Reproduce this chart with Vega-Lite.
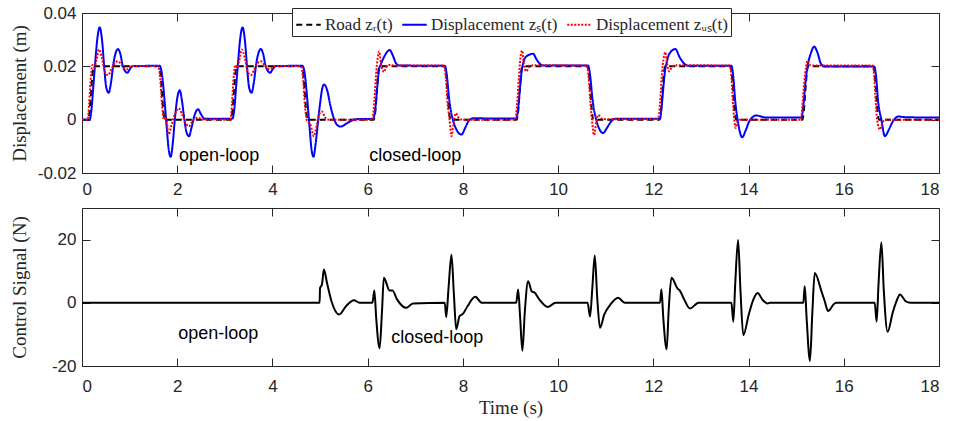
{
  "$schema": "https://vega.github.io/schema/vega-lite/v6.json",
  "background": "white",
  "padding": {"left": 9, "right": 1, "top": 3, "bottom": 5},
  "spacing": 9,
  "config": {
    "view": {"stroke": "#262626", "strokeWidth": 1},
    "axis": {
      "grid": false, "domain": false, "ticks": true, "tickColor": "#262626", "tickSize": -8, "tickWidth": 1,
      "labelFont": "Liberation Sans", "labelFontSize": 17, "labelColor": "#262626",
      "titleFont": "Liberation Serif", "titleFontSize": 19, "titleFontWeight": "normal", "titleColor": "#262626"
    }
  },
  "vconcat": [
    {
      "width": 857,
      "height": 160,
      "layer": [
        {
          "data": {"values": [
            {"t":0,"z":0,"s":"road"},{"t":0.13,"z":0,"s":"road"},{"t":0.16,"z":0.003,"s":"road"},{"t":0.19,"z":0.01,"s":"road"},{"t":0.22,"z":0.017,"s":"road"},{"t":0.25,"z":0.02,"s":"road"},
            {"t":1.62,"z":0.02,"s":"road"},{"t":1.65,"z":0.017,"s":"road"},{"t":1.68,"z":0.01,"s":"road"},{"t":1.71,"z":0.003,"s":"road"},{"t":1.74,"z":0,"s":"road"},
            {"t":3.13,"z":0,"s":"road"},{"t":3.16,"z":0.003,"s":"road"},{"t":3.19,"z":0.01,"s":"road"},{"t":3.22,"z":0.017,"s":"road"},{"t":3.25,"z":0.02,"s":"road"},
            {"t":4.62,"z":0.02,"s":"road"},{"t":4.65,"z":0.017,"s":"road"},{"t":4.68,"z":0.01,"s":"road"},{"t":4.71,"z":0.003,"s":"road"},{"t":4.74,"z":0,"s":"road"},
            {"t":6.13,"z":0,"s":"road"},{"t":6.16,"z":0.003,"s":"road"},{"t":6.19,"z":0.01,"s":"road"},{"t":6.22,"z":0.017,"s":"road"},{"t":6.25,"z":0.02,"s":"road"},
            {"t":7.62,"z":0.02,"s":"road"},{"t":7.65,"z":0.017,"s":"road"},{"t":7.68,"z":0.01,"s":"road"},{"t":7.71,"z":0.003,"s":"road"},{"t":7.74,"z":0,"s":"road"},
            {"t":9.13,"z":0,"s":"road"},{"t":9.16,"z":0.003,"s":"road"},{"t":9.19,"z":0.01,"s":"road"},{"t":9.22,"z":0.017,"s":"road"},{"t":9.25,"z":0.02,"s":"road"},
            {"t":10.62,"z":0.02,"s":"road"},{"t":10.65,"z":0.017,"s":"road"},{"t":10.68,"z":0.01,"s":"road"},{"t":10.71,"z":0.003,"s":"road"},{"t":10.74,"z":0,"s":"road"},
            {"t":12.13,"z":0,"s":"road"},{"t":12.16,"z":0.003,"s":"road"},{"t":12.19,"z":0.01,"s":"road"},{"t":12.22,"z":0.017,"s":"road"},{"t":12.25,"z":0.02,"s":"road"},
            {"t":13.62,"z":0.02,"s":"road"},{"t":13.65,"z":0.017,"s":"road"},{"t":13.68,"z":0.01,"s":"road"},{"t":13.71,"z":0.003,"s":"road"},{"t":13.74,"z":0,"s":"road"},
            {"t":15.13,"z":0,"s":"road"},{"t":15.16,"z":0.003,"s":"road"},{"t":15.19,"z":0.01,"s":"road"},{"t":15.22,"z":0.017,"s":"road"},{"t":15.25,"z":0.02,"s":"road"},
            {"t":16.62,"z":0.02,"s":"road"},{"t":16.65,"z":0.017,"s":"road"},{"t":16.68,"z":0.01,"s":"road"},{"t":16.71,"z":0.003,"s":"road"},{"t":16.74,"z":0,"s":"road"},
            {"t":18,"z":0,"s":"road"},

            {"t":0,"z":0,"s":"zs"},{"t":0.16,"z":0,"s":"zs"},{"t":0.2,"z":0.004,"s":"zs"},{"t":0.24,"z":0.013,"s":"zs"},{"t":0.28,"z":0.022,"s":"zs"},{"t":0.32,"z":0.03,"s":"zs"},{"t":0.372,"z":0.0346,"s":"zs"},{"t":0.42,"z":0.03,"s":"zs"},{"t":0.47,"z":0.019,"s":"zs"},{"t":0.51,"z":0.012,"s":"zs"},{"t":0.561,"z":0.0101,"s":"zs"},{"t":0.61,"z":0.014,"s":"zs"},{"t":0.66,"z":0.021,"s":"zs"},{"t":0.756,"z":0.0265,"s":"zs"},{"t":0.8,"z":0.025,"s":"zs"},{"t":0.86,"z":0.02,"s":"zs"},{"t":0.952,"z":0.0176,"s":"zs"},{"t":1.0,"z":0.0188,"s":"zs"},{"t":1.07,"z":0.0201,"s":"zs"},{"t":1.63,"z":0.0202,"s":"zs"},
            {"t":1.68,"z":0.017,"s":"zs"},{"t":1.73,"z":0.008,"s":"zs"},{"t":1.78,"z":-0.003,"s":"zs"},{"t":1.82,"z":-0.011,"s":"zs"},{"t":1.863,"z":-0.0139,"s":"zs"},{"t":1.9,"z":-0.01,"s":"zs"},{"t":1.95,"z":0.0,"s":"zs"},{"t":2.0,"z":0.008,"s":"zs"},{"t":2.053,"z":0.011,"s":"zs"},{"t":2.1,"z":0.007,"s":"zs"},{"t":2.15,"z":0.0,"s":"zs"},{"t":2.2,"z":-0.005,"s":"zs"},{"t":2.248,"z":-0.0062,"s":"zs"},{"t":2.3,"z":-0.003,"s":"zs"},{"t":2.37,"z":0.002,"s":"zs"},{"t":2.437,"z":0.0039,"s":"zs"},{"t":2.5,"z":0.002,"s":"zs"},{"t":2.578,"z":0.0003,"s":"zs"},{"t":3.16,"z":0.0004,"s":"zs"},
            {"t":3.2,"z":0.004,"s":"zs"},{"t":3.24,"z":0.013,"s":"zs"},{"t":3.28,"z":0.022,"s":"zs"},{"t":3.32,"z":0.03,"s":"zs"},{"t":3.372,"z":0.0346,"s":"zs"},{"t":3.42,"z":0.03,"s":"zs"},{"t":3.47,"z":0.019,"s":"zs"},{"t":3.51,"z":0.012,"s":"zs"},{"t":3.561,"z":0.0101,"s":"zs"},{"t":3.61,"z":0.014,"s":"zs"},{"t":3.66,"z":0.021,"s":"zs"},{"t":3.756,"z":0.0265,"s":"zs"},{"t":3.8,"z":0.025,"s":"zs"},{"t":3.86,"z":0.02,"s":"zs"},{"t":3.952,"z":0.0176,"s":"zs"},{"t":4.0,"z":0.0188,"s":"zs"},{"t":4.07,"z":0.0201,"s":"zs"},{"t":4.63,"z":0.0202,"s":"zs"},
            {"t":4.68,"z":0.017,"s":"zs"},{"t":4.73,"z":0.008,"s":"zs"},{"t":4.78,"z":-0.003,"s":"zs"},{"t":4.82,"z":-0.011,"s":"zs"},{"t":4.863,"z":-0.0139,"s":"zs"},{"t":4.9,"z":-0.01,"s":"zs"},{"t":4.95,"z":-0.002,"s":"zs"},{"t":5.0,"z":0.006,"s":"zs"},{"t":5.05,"z":0.012,"s":"zs"},{"t":5.084,"z":0.0132,"s":"zs"},{"t":5.15,"z":0.011,"s":"zs"},{"t":5.22,"z":0.005,"s":"zs"},{"t":5.3,"z":0.0,"s":"zs"},{"t":5.36,"z":-0.002,"s":"zs"},{"t":5.435,"z":-0.0026,"s":"zs"},{"t":5.55,"z":-0.0015,"s":"zs"},{"t":5.65,"z":-0.0005,"s":"zs"},{"t":5.76,"z":0.0002,"s":"zs"},{"t":6.11,"z":0.0003,"s":"zs"},
            {"t":6.16,"z":0.004,"s":"zs"},{"t":6.2,"z":0.012,"s":"zs"},{"t":6.24,"z":0.019,"s":"zs"},{"t":6.27,"z":0.0205,"s":"zs"},{"t":6.33,"z":0.023,"s":"zs"},{"t":6.464,"z":0.0261,"s":"zs"},{"t":6.53,"z":0.024,"s":"zs"},{"t":6.6,"z":0.021,"s":"zs"},{"t":6.67,"z":0.0203,"s":"zs"},{"t":7.62,"z":0.0202,"s":"zs"},
            {"t":7.66,"z":0.017,"s":"zs"},{"t":7.71,"z":0.008,"s":"zs"},{"t":7.79,"z":0.0,"s":"zs"},{"t":7.968,"z":-0.0056,"s":"zs"},{"t":8.05,"z":-0.003,"s":"zs"},{"t":8.12,"z":-0.0005,"s":"zs"},{"t":8.21,"z":0.0005,"s":"zs"},{"t":9.12,"z":0.0004,"s":"zs"},
            {"t":9.16,"z":0.004,"s":"zs"},{"t":9.2,"z":0.012,"s":"zs"},{"t":9.24,"z":0.019,"s":"zs"},{"t":9.265,"z":0.021,"s":"zs"},{"t":9.32,"z":0.0235,"s":"zs"},{"t":9.475,"z":0.0247,"s":"zs"},{"t":9.55,"z":0.0225,"s":"zs"},{"t":9.68,"z":0.0203,"s":"zs"},{"t":10.63,"z":0.0203,"s":"zs"},
            {"t":10.67,"z":0.017,"s":"zs"},{"t":10.72,"z":0.008,"s":"zs"},{"t":10.8,"z":0.0,"s":"zs"},{"t":10.945,"z":-0.005,"s":"zs"},{"t":11.03,"z":-0.003,"s":"zs"},{"t":11.1,"z":-0.001,"s":"zs"},{"t":11.19,"z":0.0003,"s":"zs"},{"t":12.14,"z":0.0003,"s":"zs"},
            {"t":12.17,"z":0.004,"s":"zs"},{"t":12.21,"z":0.012,"s":"zs"},{"t":12.25,"z":0.019,"s":"zs"},{"t":12.275,"z":0.021,"s":"zs"},{"t":12.33,"z":0.0245,"s":"zs"},{"t":12.464,"z":0.0265,"s":"zs"},{"t":12.55,"z":0.0235,"s":"zs"},{"t":12.73,"z":0.0202,"s":"zs"},{"t":13.64,"z":0.0202,"s":"zs"},
            {"t":13.68,"z":0.016,"s":"zs"},{"t":13.72,"z":0.007,"s":"zs"},{"t":13.77,"z":0.0,"s":"zs"},{"t":13.866,"z":-0.0066,"s":"zs"},{"t":13.94,"z":-0.004,"s":"zs"},{"t":14.02,"z":-0.0005,"s":"zs"},{"t":14.166,"z":0.0016,"s":"zs"},{"t":14.3,"z":0.001,"s":"zs"},{"t":14.376,"z":0.0008,"s":"zs"},{"t":15.11,"z":0.0008,"s":"zs"},
            {"t":15.15,"z":0.005,"s":"zs"},{"t":15.19,"z":0.013,"s":"zs"},{"t":15.23,"z":0.019,"s":"zs"},{"t":15.25,"z":0.021,"s":"zs"},{"t":15.31,"z":0.025,"s":"zs"},{"t":15.378,"z":0.0274,"s":"zs"},{"t":15.45,"z":0.025,"s":"zs"},{"t":15.52,"z":0.021,"s":"zs"},{"t":15.6,"z":0.0199,"s":"zs"},{"t":16.64,"z":0.0199,"s":"zs"},
            {"t":16.68,"z":0.016,"s":"zs"},{"t":16.72,"z":0.007,"s":"zs"},{"t":16.79,"z":0.0,"s":"zs"},{"t":16.863,"z":-0.0062,"s":"zs"},{"t":16.94,"z":-0.004,"s":"zs"},{"t":17.02,"z":-0.001,"s":"zs"},{"t":17.14,"z":0.0012,"s":"zs"},{"t":17.3,"z":0.0009,"s":"zs"},{"t":18,"z":0.0008,"s":"zs"},

            {"t":0,"z":0,"s":"zus"},{"t":0.12,"z":0,"s":"zus"},{"t":0.15,"z":0.006,"s":"zus"},{"t":0.19,"z":0.017,"s":"zus"},{"t":0.22,"z":0.0205,"s":"zus"},{"t":0.26,"z":0.0195,"s":"zus"},{"t":0.3,"z":0.022,"s":"zus"},{"t":0.357,"z":0.0263,"s":"zus"},{"t":0.42,"z":0.023,"s":"zus"},{"t":0.48,"z":0.018,"s":"zus"},{"t":0.546,"z":0.0167,"s":"zus"},{"t":0.62,"z":0.019,"s":"zus"},{"t":0.68,"z":0.021,"s":"zus"},{"t":0.756,"z":0.0219,"s":"zus"},{"t":0.85,"z":0.02,"s":"zus"},{"t":0.94,"z":0.0189,"s":"zus"},{"t":1.05,"z":0.0201,"s":"zus"},{"t":1.6,"z":0.0201,"s":"zus"},
            {"t":1.64,"z":0.016,"s":"zus"},{"t":1.68,"z":0.006,"s":"zus"},{"t":1.72,"z":0.0,"s":"zus"},{"t":1.76,"z":0.001,"s":"zus"},{"t":1.82,"z":-0.0055,"s":"zus"},{"t":1.88,"z":-0.002,"s":"zus"},{"t":1.95,"z":0.002,"s":"zus"},{"t":2.03,"z":0.0043,"s":"zus"},{"t":2.1,"z":0.002,"s":"zus"},{"t":2.17,"z":-0.001,"s":"zus"},{"t":2.245,"z":-0.0025,"s":"zus"},{"t":2.32,"z":-0.0005,"s":"zus"},{"t":2.43,"z":0.0007,"s":"zus"},{"t":2.55,"z":0.0001,"s":"zus"},{"t":3.12,"z":0.0,"s":"zus"},
            {"t":3.15,"z":0.006,"s":"zus"},{"t":3.19,"z":0.017,"s":"zus"},{"t":3.22,"z":0.0205,"s":"zus"},{"t":3.26,"z":0.0195,"s":"zus"},{"t":3.3,"z":0.022,"s":"zus"},{"t":3.357,"z":0.0263,"s":"zus"},{"t":3.42,"z":0.023,"s":"zus"},{"t":3.48,"z":0.018,"s":"zus"},{"t":3.546,"z":0.0167,"s":"zus"},{"t":3.62,"z":0.019,"s":"zus"},{"t":3.68,"z":0.021,"s":"zus"},{"t":3.756,"z":0.0219,"s":"zus"},{"t":3.85,"z":0.02,"s":"zus"},{"t":3.94,"z":0.0189,"s":"zus"},{"t":4.05,"z":0.0201,"s":"zus"},{"t":4.6,"z":0.0201,"s":"zus"},
            {"t":4.64,"z":0.016,"s":"zus"},{"t":4.68,"z":0.006,"s":"zus"},{"t":4.72,"z":0.0,"s":"zus"},{"t":4.76,"z":-0.001,"s":"zus"},{"t":4.8,"z":-0.002,"s":"zus"},{"t":4.87,"z":-0.0062,"s":"zus"},{"t":4.93,"z":-0.002,"s":"zus"},{"t":4.98,"z":0.002,"s":"zus"},{"t":5.04,"z":0.0031,"s":"zus"},{"t":5.1,"z":0.001,"s":"zus"},{"t":5.18,"z":0.0,"s":"zus"},{"t":6.1,"z":0.0,"s":"zus"},
            {"t":6.14,"z":0.007,"s":"zus"},{"t":6.18,"z":0.018,"s":"zus"},{"t":6.21,"z":0.023,"s":"zus"},{"t":6.24,"z":0.0256,"s":"zus"},{"t":6.28,"z":0.021,"s":"zus"},{"t":6.34,"z":0.0179,"s":"zus"},{"t":6.4,"z":0.02,"s":"zus"},{"t":6.46,"z":0.0205,"s":"zus"},{"t":6.55,"z":0.0203,"s":"zus"},{"t":7.6,"z":0.0203,"s":"zus"},
            {"t":7.64,"z":0.016,"s":"zus"},{"t":7.68,"z":0.006,"s":"zus"},{"t":7.72,"z":0.0,"s":"zus"},{"t":7.76,"z":-0.0062,"s":"zus"},{"t":7.8,"z":-0.002,"s":"zus"},{"t":7.85,"z":0.0024,"s":"zus"},{"t":7.92,"z":0.0005,"s":"zus"},{"t":8.0,"z":0.0,"s":"zus"},{"t":9.1,"z":0.0,"s":"zus"},
            {"t":9.14,"z":0.006,"s":"zus"},{"t":9.18,"z":0.017,"s":"zus"},{"t":9.21,"z":0.0235,"s":"zus"},{"t":9.244,"z":0.0259,"s":"zus"},{"t":9.28,"z":0.021,"s":"zus"},{"t":9.33,"z":0.0181,"s":"zus"},{"t":9.4,"z":0.02,"s":"zus"},{"t":9.5,"z":0.0204,"s":"zus"},{"t":10.6,"z":0.0203,"s":"zus"},
            {"t":10.64,"z":0.016,"s":"zus"},{"t":10.68,"z":0.006,"s":"zus"},{"t":10.71,"z":0.0,"s":"zus"},{"t":10.756,"z":-0.0058,"s":"zus"},{"t":10.8,"z":-0.001,"s":"zus"},{"t":10.84,"z":0.0018,"s":"zus"},{"t":10.92,"z":0.0004,"s":"zus"},{"t":11.0,"z":0.0002,"s":"zus"},{"t":12.1,"z":0.0002,"s":"zus"},
            {"t":12.14,"z":0.006,"s":"zus"},{"t":12.18,"z":0.017,"s":"zus"},{"t":12.22,"z":0.0235,"s":"zus"},{"t":12.25,"z":0.0253,"s":"zus"},{"t":12.29,"z":0.021,"s":"zus"},{"t":12.33,"z":0.0181,"s":"zus"},{"t":12.4,"z":0.02,"s":"zus"},{"t":12.5,"z":0.0204,"s":"zus"},{"t":13.6,"z":0.0203,"s":"zus"},
            {"t":13.64,"z":0.016,"s":"zus"},{"t":13.67,"z":0.007,"s":"zus"},{"t":13.7,"z":0.0,"s":"zus"},{"t":13.73,"z":-0.0031,"s":"zus"},{"t":13.77,"z":-0.0005,"s":"zus"},{"t":13.82,"z":0.0,"s":"zus"},{"t":15.1,"z":0.0,"s":"zus"},
            {"t":15.13,"z":0.005,"s":"zus"},{"t":15.17,"z":0.014,"s":"zus"},{"t":15.21,"z":0.02,"s":"zus"},{"t":15.24,"z":0.0222,"s":"zus"},{"t":15.28,"z":0.0205,"s":"zus"},{"t":15.35,"z":0.0203,"s":"zus"},{"t":16.6,"z":0.0203,"s":"zus"},
            {"t":16.64,"z":0.016,"s":"zus"},{"t":16.67,"z":0.007,"s":"zus"},{"t":16.7,"z":0.0,"s":"zus"},{"t":16.76,"z":-0.0037,"s":"zus"},{"t":16.82,"z":-0.0008,"s":"zus"},{"t":16.9,"z":0.0,"s":"zus"},{"t":18,"z":0.0,"s":"zus"}
          ]},
          "mark": {"type": "line", "interpolate": "monotone", "strokeWidth": 2, "clip": true},
          "encoding": {
            "x": {"field": "t", "type": "quantitative",
                  "scale": {"domain": [0, 18], "nice": false, "zero": false},
                  "axis": {"orient": "bottom", "values": [0,2,4,6,8,10,12,14,16,18], "title": null, "labelPadding": 16}},
            "y": {"field": "z", "type": "quantitative",
                  "scale": {"domain": [-0.02, 0.04], "nice": false, "zero": false},
                  "axis": {"orient": "left", "values": [-0.02, 0, 0.02, 0.04], "title": "Displacement (m)", "labelPadding": 14, "titlePadding": 8,
                           "labelExpr": "datum.value == 0 ? '0' : (datum.value < 0 ? '-' : '') + format(abs(datum.value), '.2f')"}},
            "color": {"field": "s", "type": "nominal",
                      "scale": {"domain": ["road", "zs", "zus"], "range": ["#000000", "#0000ff", "#ff0000"]},
                      "legend": {"title": null, "orient": "none", "legendX": 210, "legendY": -5, "direction": "horizontal",
                                 "labelExpr": "datum.label == 'road' ? 'Road zᵣ(t)' : datum.label == 'zs' ? 'Displacement zₛ(t)' : 'Displacement zᵤₛ(t)'",
                                 "symbolType": "stroke", "symbolSize": 600, "symbolStrokeWidth": 2,
                                 "labelFont": "Liberation Serif", "labelFontSize": 17, "labelColor": "#262626", "labelLimit": 300,
                                 "strokeColor": "#262626", "fillColor": "white", "padding": 3, "columnPadding": 5, "labelOffset": 3, "cornerRadius": 0}},
            "strokeDash": {"field": "s", "type": "nominal",
                           "scale": {"domain": ["road", "zs", "zus"], "range": [[6, 4], [1, 0], [2, 1.5]]},
                           "legend": {"title": null, "orient": "none", "legendX": 210, "legendY": -5, "direction": "horizontal",
                                      "labelExpr": "datum.label == 'road' ? 'Road zᵣ(t)' : datum.label == 'zs' ? 'Displacement zₛ(t)' : 'Displacement zᵤₛ(t)'",
                                      "symbolType": "stroke", "symbolSize": 600, "symbolStrokeWidth": 2,
                                      "labelFont": "Liberation Serif", "labelFontSize": 17, "labelColor": "#262626", "labelLimit": 300,
                                      "strokeColor": "#262626", "fillColor": "white", "padding": 3, "columnPadding": 5, "labelOffset": 3, "cornerRadius": 0}}
          }
        },
        {
          "mark": {"type": "rule", "color": "#000000", "strokeWidth": 1.5, "strokeDash": [1.5, 1.5]},
          "encoding": {
            "x": {"datum": 5, "type": "quantitative",
                  "axis": {"orient": "top", "values": [0,2,4,6,8,10,12,14,16,18], "labels": false, "title": null}}
          }
        },
        {
          "data": {"values": [
            {"t": 2.88, "z": -0.0135, "label": "open-loop"},
            {"t": 7.0, "z": -0.0135, "label": "closed-loop"}
          ]},
          "mark": {"type": "text", "font": "Liberation Sans", "fontSize": 18, "align": "center", "baseline": "middle", "color": "#000000"},
          "encoding": {
            "x": {"field": "t", "type": "quantitative", "axis": null},
            "y": {"field": "z", "type": "quantitative",
                  "axis": {"orient": "right", "values": [-0.02, 0, 0.02, 0.04], "labels": false, "title": null}},
            "text": {"field": "label"}
          }
        }
      ],
      "resolve": {"axis": {"x": "independent", "y": "independent"}}
    },
    {
      "width": 857,
      "height": 158,
      "layer": [
        {
          "data": {"values": [
            {"t":0,"u":0},{"t":4.99,"u":0},{"t":5.0,"u":4.7},{"t":5.04,"u":5.8},{"t":5.08,"u":10.5},{"t":5.15,"u":6.0},{"t":5.24,"u":0.5},{"t":5.4,"u":-3.7},{"t":5.55,"u":-1.0},{"t":5.71,"u":0.8},{"t":5.83,"u":0.0},
            {"t":6.1,"u":0},{"t":6.14,"u":3.9},{"t":6.18,"u":-5},{"t":6.25,"u":-14.4},{"t":6.3,"u":-3},{"t":6.34,"u":7.9},{"t":6.46,"u":3.9},{"t":6.52,"u":3.9},{"t":6.62,"u":1.0},{"t":6.81,"u":-1.6},{"t":6.95,"u":-0.2},
            {"t":7.62,"u":0},{"t":7.65,"u":-4.5},{"t":7.7,"u":5},{"t":7.76,"u":15.2},{"t":7.81,"u":3},{"t":7.86,"u":-8.4},{"t":7.93,"u":-4.2},{"t":8.0,"u":-3.5},{"t":8.1,"u":-1.0},{"t":8.26,"u":1.9},{"t":8.4,"u":0.0},
            {"t":9.12,"u":0},{"t":9.16,"u":4.2},{"t":9.2,"u":-4},{"t":9.25,"u":-15.2},{"t":9.3,"u":-3},{"t":9.37,"u":6.8},{"t":9.45,"u":3.5},{"t":9.5,"u":3.3},{"t":9.6,"u":1.2},{"t":9.78,"u":-1.3},{"t":9.95,"u":0.0},
            {"t":10.62,"u":0},{"t":10.67,"u":-4.4},{"t":10.72,"u":5},{"t":10.77,"u":15.0},{"t":10.82,"u":2},{"t":10.88,"u":-7.9},{"t":10.97,"u":-3.7},{"t":11.1,"u":-0.5},{"t":11.26,"u":1.6},{"t":11.4,"u":0},
            {"t":12.14,"u":0},{"t":12.17,"u":4.2},{"t":12.21,"u":-5},{"t":12.28,"u":-14.7},{"t":12.32,"u":-3},{"t":12.38,"u":7.9},{"t":12.51,"u":4.5},{"t":12.56,"u":3.8},{"t":12.65,"u":1.0},{"t":12.77,"u":-1.8},{"t":12.95,"u":0},
            {"t":13.64,"u":0},{"t":13.68,"u":-6.0},{"t":13.72,"u":6},{"t":13.78,"u":19.9},{"t":13.83,"u":4},{"t":13.89,"u":-10.3},{"t":14.0,"u":-4},{"t":14.1,"u":1},{"t":14.19,"u":3.1},{"t":14.3,"u":0.8},{"t":14.4,"u":-0.2},{"t":14.45,"u":0},
            {"t":15.15,"u":0},{"t":15.18,"u":5.2},{"t":15.22,"u":-5},{"t":15.29,"u":-18.4},{"t":15.34,"u":-3},{"t":15.39,"u":9.4},{"t":15.53,"u":3.7},{"t":15.6,"u":0.5},{"t":15.67,"u":-2.6},{"t":15.8,"u":-0.3},{"t":15.85,"u":0},
            {"t":16.65,"u":0},{"t":16.69,"u":-6.0},{"t":16.73,"u":6},{"t":16.79,"u":19.2},{"t":16.84,"u":4},{"t":16.92,"u":-9.2},{"t":17.03,"u":-3},{"t":17.12,"u":1},{"t":17.18,"u":2.6},{"t":17.3,"u":0.5},{"t":17.4,"u":0},{"t":18,"u":0}
          ]},
          "mark": {"type": "line", "interpolate": "monotone", "strokeWidth": 2, "color": "#000000", "clip": true},
          "encoding": {
            "x": {"field": "t", "type": "quantitative",
                  "scale": {"domain": [0, 18], "nice": false, "zero": false},
                  "axis": {"orient": "bottom", "values": [0,2,4,6,8,10,12,14,16,18], "title": "Time (s)", "labelPadding": 20, "titlePadding": 4}},
            "y": {"field": "u", "type": "quantitative",
                  "scale": {"domain": [-20, 30], "nice": false, "zero": false},
                  "axis": {"orient": "left", "values": [-20, 0, 20], "title": "Control Signal (N)", "labelPadding": 14, "titlePadding": 22,
                           "labelExpr": "(datum.value < 0 ? '-' : '') + format(abs(datum.value), 'd')"}}
          }
        },
        {
          "mark": {"type": "rule", "color": "#000000", "strokeWidth": 1.5, "strokeDash": [1.5, 1.5]},
          "encoding": {
            "x": {"datum": 5, "type": "quantitative",
                  "axis": {"orient": "top", "values": [0,2,4,6,8,10,12,14,16,18], "labels": false, "title": null}}
          }
        },
        {
          "data": {"values": [
            {"t": 2.86, "u": -10.0, "label": "open-loop"},
            {"t": 7.46, "u": -11.2, "label": "closed-loop"}
          ]},
          "mark": {"type": "text", "font": "Liberation Sans", "fontSize": 18, "align": "center", "baseline": "middle", "color": "#000000"},
          "encoding": {
            "x": {"field": "t", "type": "quantitative", "axis": null},
            "y": {"field": "u", "type": "quantitative",
                  "axis": {"orient": "right", "values": [-20, 0, 20], "labels": false, "title": null}},
            "text": {"field": "label"}
          }
        }
      ],
      "resolve": {"axis": {"x": "independent", "y": "independent"}}
    }
  ]
}
